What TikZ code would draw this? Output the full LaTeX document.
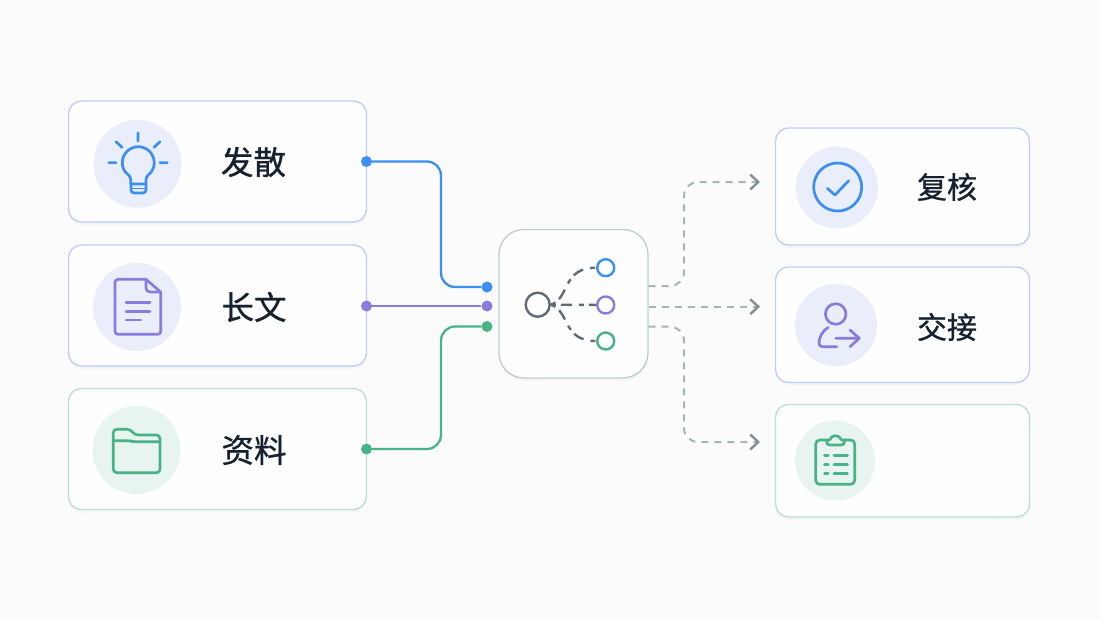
\documentclass[tikz,border=0pt]{standalone}
\usepackage{fontspec}
\newfontfamily\cjk[FakeBold=0.9]{Noto Sans CJK SC}
\usetikzlibrary{positioning, arrows.meta, shadows}

\definecolor{pagebg}{HTML}{FBFBFC}
\definecolor{cardbg}{HTML}{FEFEFE}
\definecolor{ink}{HTML}{15212F}
\definecolor{cblue}{HTML}{3B8FF3}
\definecolor{cviolet}{HTML}{8B7BDC}
\definecolor{cgreen}{HTML}{47B386}
\definecolor{edgeblue}{HTML}{BFCDF8}
\definecolor{edgegreen}{HTML}{B6E2D0}
\definecolor{edgehub}{HTML}{BCCDCE}
\definecolor{discblue}{HTML}{E9EEFA}
\definecolor{discgreen}{HTML}{E8F4F0}
\definecolor{hubgrey}{HTML}{5F6B76}
\definecolor{dashgrey}{HTML}{A3B7B3}
\definecolor{tipgrey}{HTML}{858F96}

\tikzset{
    card/.style={draw=edgeblue, fill=cardbg, line width=1.3pt, rounded corners=13pt, inner sep=0pt,
        drop shadow={shadow xshift=0pt, shadow yshift=-3pt, opacity=0.025, fill=black}},
    greencard/.style={card, draw=edgegreen},
    disc/.style={circle, fill=discblue, inner sep=0pt},
    greendisc/.style={disc, fill=discgreen},
    label/.style={text=ink, font=\cjk\fontsize{32.5}{32.5}\selectfont, inner sep=0pt},
    smalllabel/.style={label, font=\cjk\fontsize{30}{30}\selectfont},
    dot/.style={circle, inner sep=0pt, minimum size=11pt},
    wire/.style={line width=2.3pt, rounded corners=14pt},
    outwire/.style={draw=dashgrey, line width=2pt, rounded corners=14pt, dash pattern=on 7pt off 6pt},
    glyph/.style={line width=2.7pt, line cap=round, line join=round},
    leaf/.style={circle, draw, fill=cardbg, line width=2.4pt, inner sep=0pt, minimum size=17pt},
    hubline/.style={draw=hubgrey, line width=2.4pt, dash pattern=on 5pt off 5pt on 11pt off 7pt}
}

\begin{document}
\begin{tikzpicture}[x=1pt, y=-1pt]
    \useasboundingbox[fill=pagebg] (0,0) rectangle (1100,619);

    \node[card, minimum width=298pt, minimum height=121pt] (in_1) at (217.5,161.5) {};
    \node[card, minimum width=298pt, minimum height=121pt] (in_2) at (217.5,305.5) {};
    \node[greencard, minimum width=298pt, minimum height=121pt] (in_3) at (217.5,449) {};
    \node[card, minimum width=254pt, minimum height=117pt] (out_1) at (902.5,186.5) {};
    \node[card, minimum width=254pt, minimum height=115.5pt] (out_2) at (902.5,324.7) {};
    \node[greencard, minimum width=254pt, minimum height=112.5pt] (out_3) at (902.5,460.7) {};
    \node[card, draw=edgehub, minimum width=149pt, minimum height=148.5pt, rounded corners=25pt] (hub_box) at (573.5,303.7) {};

    \node[disc, minimum size=88pt] (disc_1) at (137.5,163.7) {};
    \node[disc, minimum size=88pt] (disc_2) at (137,307) {};
    \node[greendisc, minimum size=88pt] (disc_3) at (136.5,450) {};
    \node[disc, minimum size=82pt] (disc_4) at (837,187.5) {};
    \node[disc, minimum size=82pt] (disc_5) at (836,325) {};
    \node[greendisc, minimum size=80pt] (disc_6) at (835,460.5) {};

    \node[label] (text_1) at (253.5,162) {发散};
    \node[label] (text_2) at (254,307) {长文};
    \node[label] (text_3) at (254,450) {资料};
    \node[smalllabel] (text_4) at (947,187) {复核};
    \node[smalllabel] (text_5) at (947,327) {交接};

    % bulb
    \draw[glyph, cblue] (130.7,184) -- (130.7,180) .. controls (130.7,176) and (128,174.5) .. (125.2,171.9)
        arc[start angle=145, end angle=395, radius=16]
        .. controls (149,174.5) and (146,176) .. (146,180) -- (146,184) -- cycle;
    \draw[glyph, cblue, rounded corners=3pt] (131,184) -- (131,193) -- (146,193) -- (146,184);
    \draw[glyph, cblue, line width=1.8pt] (131,188.5) -- (146,188.5);
    \draw[glyph, cblue] (138,133) -- (138,141) (116,141.7) -- (122,147.3) (160,141.7) -- (154,147.3)
        (108.7,162.7) -- (116,162.7) (160,162.7) -- (167.3,162.7);

    % document
    \draw[glyph, cviolet, rounded corners=3pt] (146,279.3) -- (115,279.3) -- (115,334.3) -- (160.7,334.3) -- (160.7,292);
    \draw[glyph, cviolet] (146,279.3) -- (160.7,292) -- (150,292) .. controls (147.5,292) and (146,290) .. (146,288) -- cycle;
    \draw[glyph, cviolet] (126,302.7) -- (150,302.7) (126,311.7) -- (150,311.7) (126,320) -- (140.7,320);

    % folder
    \draw[glyph, cgreen, rounded corners=3.5pt] (113.3,472.7) -- (113.3,429.3) -- (130.7,429.3) -- (134.5,435) -- (160,435) -- (160,472.7) -- cycle;
    \draw[glyph, cgreen, rounded corners=3pt] (113.3,440.7) -- (130,440.7) -- (133,441.7) -- (160,441.7);

    % check
    \node[circle, draw=cblue, line width=2.7pt, minimum size=48pt, inner sep=0pt] (check_ring) at (837.7,187) {};
    \draw[glyph, cblue] (827.3,188.3) -- (835,195) -- (848.7,180.7);

    % person
    \node[circle, draw=cviolet, line width=2.7pt, minimum size=20.5pt, inner sep=0pt] (person_head) at (835.7,314) {};
    \draw[glyph, cviolet] (828.3,327.3) .. controls (822,331) and (819,338) .. (819,343)
        .. controls (819,345.5) and (820,346.7) .. (823,346.7) -- (836.7,346.7);
    \draw[glyph, cviolet] (835.7,338.3) -- (859.3,338.3) (850,330) -- (859.3,338.3) -- (850,346.7);

    % clipboard
    \draw[glyph, cgreen, rounded corners=4pt] (827.3,440) -- (815.7,440) -- (815.7,484.3) -- (854.7,484.3) -- (854.7,440) -- (843.3,440);
    \draw[glyph, cgreen, fill=discgreen] (830,445) .. controls (825.5,445) and (825.5,439.5) .. (830,439.5)
        .. controls (831,434.5) and (840,434.5) .. (841,439.5)
        .. controls (845.5,439.5) and (845.5,445) .. (841,445) -- cycle;
    \draw[glyph, cgreen, line width=3pt] (824.5,455) -- (828,455) (834,455) -- (847.3,455)
        (824.5,464) -- (828,464) (834,464) -- (847.3,464)
        (824.5,473) -- (828,473) (834,473) -- (847.3,473);

    % hub icon
    \node[leaf, draw=hubgrey, minimum size=24pt] (hub) at (537.7,304.7) {};
    \node[leaf, draw=cblue] (leaf_1) at (605.7,267.7) {};
    \node[leaf, draw=cviolet] (leaf_2) at (605.7,305) {};
    \node[leaf, draw=cgreen] (leaf_3) at (605.7,341) {};
    \draw[hubline] (hub.east) .. controls (570,298) and (562,267.7) .. (leaf_1);
    \draw[hubline] (hub.east) -- (leaf_2);
    \draw[hubline] (hub.east) .. controls (570,311) and (562,341) .. (leaf_3);

    % connectors
    \node[dot, fill=cblue] (dot_1) at (366.5,161.5) {};
    \node[dot, fill=cviolet] (dot_2) at (366.5,306) {};
    \node[dot, fill=cgreen] (dot_3) at (366.5,449) {};
    \node[dot, fill=cblue] (port_1) at (487,287) {};
    \node[dot, fill=cviolet] (port_2) at (487,306) {};
    \node[dot, fill=cgreen] (port_3) at (487,326.5) {};
    \coordinate (bus_in) at (441,300);
    \draw[wire, cblue] (dot_1) -- (dot_1 -| bus_in) -- (bus_in |- port_1) -- (port_1);
    \draw[wire, cviolet] (dot_2) -- (port_2);
    \draw[wire, cgreen] (dot_3) -- (dot_3 -| bus_in) -- (bus_in |- port_3) -- (port_3);

    \coordinate (exit_1) at (648.5,286);
    \coordinate (exit_2) at (648.5,306.7);
    \coordinate (exit_3) at (648.5,326.7);
    \coordinate (tip_1) at (760,182);
    \coordinate (tip_2) at (760,306.7);
    \coordinate (tip_3) at (760,442);
    \coordinate (bus_out) at (684,300);
    \tikzset{outtip/.style={-{Straight Barb[color=tipgrey, length=8pt, width=15pt, line width=2.4pt]}}}
    \draw[outwire, outtip] (exit_1) -- (exit_1 -| bus_out) -- (bus_out |- tip_1) -- (tip_1);
    \draw[outwire, outtip] (exit_2) -- (tip_2);
    \draw[outwire, outtip] (exit_3) -- (exit_3 -| bus_out) -- (bus_out |- tip_3) -- (tip_3);
\end{tikzpicture}
\end{document}
